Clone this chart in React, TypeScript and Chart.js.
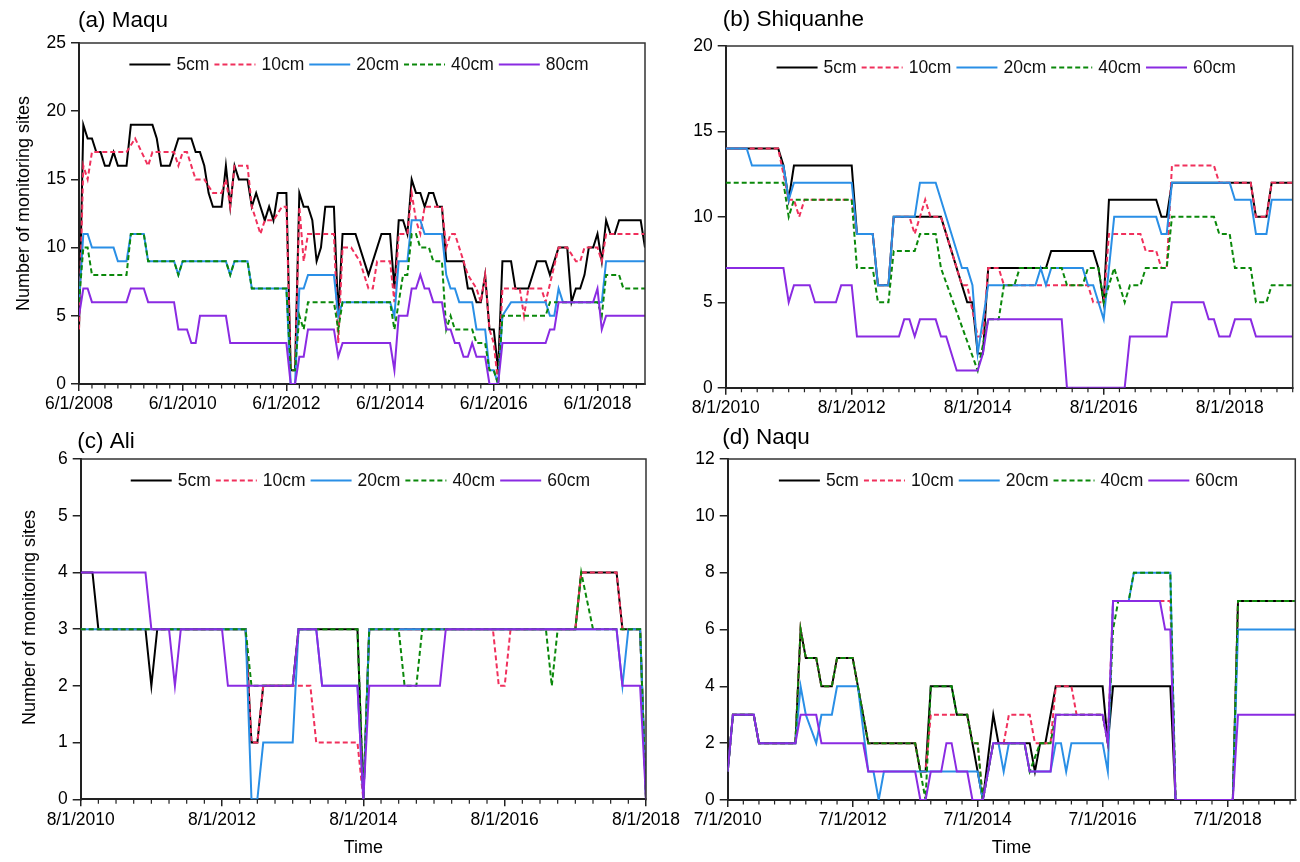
import React, { useEffect, useRef } from 'react';
import { Chart, registerables } from 'chart.js';

Chart.register(...registerables);

type P = [number, number][];

// ---------- (a) Maqu: x = months since 6/1/2008 ----------
const maquTicks = ['6/1/2008', '6/1/2010', '6/1/2012', '6/1/2014', '6/1/2016', '6/1/2018'];
const maquMonths = 131;
const maquLabels = ['5cm', '10cm', '20cm', '40cm', '80cm'];
const maqu5cm: P = [[0,4],[1,19],[2,18],[3,18],[4,17],[5,17],[6,16],[7,16],[8,17],[9,16],[11,16],[12,19],[17,19],[18,18],[19,16],[21,16],[23,18],[26,18],[27,17],[28,17],[29,16],[30,14],[31,13],[33,13],[34,16],[35,13],[36,16],[37,15],[39,15],[40,13],[41,14],[42,13],[43,12],[44,13],[45,12],[46,14],[48,14],[49,1],[50,1],[51,14],[52,13],[53,13],[54,12],[55,9],[56,10],[57,13],[59,13],[60,5],[61,11],[64,11],[67,8],[70,11],[72,11],[73,7],[74,12],[75,12],[76,11],[77,15],[78,14],[79,14],[80,13],[81,14],[82,14],[83,13],[84,13],[85,9],[89,9],[90,7],[91,7],[92,6],[93,6],[94,8],[95,4],[96,4],[97,1],[98,9],[100,9],[101,7],[104,7],[106,9],[108,9],[109,8],[111,10],[113,10],[114,6],[115,7],[116,7],[117,8],[118,10],[119,10],[120,11],[121,9],[122,12],[123,11],[124,11],[125,12],[130,12],[131,10]];
const maqu10cm: P = [[0,4],[1,16],[2,15],[3,17],[11,17],[13,18],[16,16],[17,17],[22,17],[23,16],[24,17],[25,17],[27,15],[29,15],[31,14],[33,14],[34,15],[35,13],[36,16],[39,16],[40,13],[41,12],[42,11],[43,12],[45,12],[47,13],[48,13],[49,1],[50,1],[51,13],[52,9],[53,11],[59,11],[60,3],[61,10],[63,10],[65,9],[67,7],[68,7],[69,9],[72,9],[73,6],[74,11],[76,11],[77,14],[78,12],[79,11],[80,13],[84,13],[85,10],[86,11],[87,11],[89,9],[90,8],[92,7],[93,6],[94,8],[95,4],[96,3],[97,0],[98,7],[102,7],[103,5],[104,7],[107,7],[108,6],[111,10],[113,10],[115,9],[116,9],[117,10],[120,10],[121,9],[122,11],[131,11]];
const maqu20cm: P = [[0,6],[1,11],[2,11],[3,10],[8,10],[9,9],[11,9],[12,11],[15,11],[16,9],[22,9],[23,8],[24,9],[34,9],[35,8],[36,9],[39,9],[40,7],[48,7],[49,0],[50,0],[51,7],[52,7],[53,8],[59,8],[60,5],[61,6],[72,6],[73,5],[74,9],[76,9],[77,12],[79,12],[80,11],[84,11],[85,8],[86,7],[87,7],[88,6],[91,6],[92,4],[94,4],[95,1],[96,1],[97,0],[98,5],[100,6],[108,6],[109,5],[110,5],[111,7],[112,6],[121,6],[122,9],[131,9]];
const maqu40cm: P = [[0,6],[1,10],[2,10],[3,8],[11,8],[12,11],[15,11],[16,9],[22,9],[23,8],[24,9],[34,9],[35,8],[36,9],[39,9],[40,7],[48,7],[49,1],[50,1],[51,5],[52,4],[53,6],[59,6],[60,4],[61,6],[72,6],[73,4],[74,6],[75,8],[76,8],[77,11],[78,11],[79,10],[81,10],[82,9],[84,9],[85,4],[86,5],[87,4],[91,4],[92,3],[94,3],[95,1],[96,1],[97,0],[98,5],[108,5],[109,6],[120,6],[121,5],[122,8],[125,8],[126,7],[131,7]];
const maqu80cm: P = [[0,5],[1,7],[2,7],[3,6],[11,6],[12,7],[15,7],[16,6],[22,6],[23,4],[25,4],[26,3],[27,3],[28,5],[34,5],[35,3],[48,3],[49,0],[50,0],[51,2],[52,2],[53,4],[59,4],[60,2],[61,3],[72,3],[73,1],[74,5],[76,5],[77,7],[78,7],[79,8],[80,7],[81,7],[82,6],[84,6],[85,4],[86,4],[87,3],[88,3],[89,2],[90,2],[91,3],[92,2],[94,2],[95,0],[97,0],[98,3],[108,3],[109,4],[110,4],[111,6],[119,6],[120,7],[121,4],[122,5],[131,5]];

// ---------- (b) Shiquanhe: x = months since 8/1/2010 ----------
const shiTicks = ['8/1/2010', '8/1/2012', '8/1/2014', '8/1/2016', '8/1/2018'];
const shiMonths = 108;
const shiLabels = ['5cm', '10cm', '20cm', '40cm', '60cm'];
const shi5cm: P = [[0,14],[10,14],[11,13],[12,11],[13,13],[24,13],[25,9],[28,9],[29,6],[31,6],[32,10],[41,10],[46,5],[47,5],[48,2],[49,2],[50,7],[61,7],[62,8],[70,8],[71,7],[72,5],[73,11],[82,11],[83,10],[84,10],[85,12],[100,12],[101,10],[103,10],[104,12],[108,12]];
const shi10cm: P = [[0,14],[10,14],[12,11],[13,11],[14,10],[15,11],[24,11],[25,9],[28,9],[29,6],[31,6],[32,10],[35,10],[36,9],[38,11],[39,10],[41,10],[45,6],[46,6],[48,3],[49,3],[50,7],[52,7],[53,6],[69,6],[70,5],[72,5],[73,9],[79,9],[80,8],[82,8],[83,7],[84,7],[85,13],[93,13],[94,12],[100,12],[101,10],[103,10],[104,12],[108,12]];
const shi20cm: P = [[0,14],[4,14],[5,13],[11,13],[12,11],[13,12],[24,12],[25,9],[28,9],[29,6],[31,6],[32,10],[36,10],[37,12],[40,12],[45,7],[46,7],[47,6],[48,2],[50,6],[59,6],[60,7],[61,6],[62,7],[68,7],[69,6],[70,6],[72,4],[74,10],[82,10],[83,9],[84,9],[85,12],[96,12],[97,11],[100,11],[101,9],[103,9],[104,11],[108,11]];
const shi40cm: P = [[0,12],[11,12],[12,10],[13,11],[24,11],[25,7],[28,7],[29,5],[31,5],[32,8],[36,8],[37,9],[40,9],[41,7],[48,1],[50,4],[52,4],[53,6],[55,6],[56,7],[64,7],[65,6],[68,6],[69,7],[71,7],[72,5],[74,7],[76,5],[77,6],[79,6],[80,7],[84,7],[85,10],[93,10],[94,9],[96,9],[97,7],[100,7],[101,5],[103,5],[104,6],[108,6]];
const shi60cm: P = [[0,7],[11,7],[12,5],[13,6],[16,6],[17,5],[21,5],[22,6],[24,6],[25,3],[33,3],[34,4],[35,4],[36,3],[37,4],[40,4],[41,3],[42,3],[44,1],[48,1],[49,2],[50,4],[64,4],[65,0],[76,0],[77,3],[84,3],[85,5],[91,5],[92,4],[93,4],[94,3],[96,3],[97,4],[100,4],[101,3],[108,3]];

// ---------- (c) Ali: x = months since 8/1/2010 ----------
const aliTicks = ['8/1/2010', '8/1/2012', '8/1/2014', '8/1/2016', '8/1/2018'];
const aliMonths = 96;
const aliLabels = ['5cm', '10cm', '20cm', '40cm', '60cm'];
const ali5cm: P = [[0,4],[2,4],[3,3],[11,3],[12,2],[13,3],[28,3],[29,1],[30,1],[31,2],[36,2],[37,3],[47,3],[48,0],[49,3],[84,3],[85,4],[91,4],[92,3],[95,3],[96,0]];
const ali10cm: P = [[0,3],[28,3],[29,1],[30,1],[31,2],[39,2],[40,1],[47,1],[48,0],[49,3],[70,3],[71,2],[72,2],[73,3],[84,3],[85,4],[91,4],[92,3],[95,3],[96,0]];
const ali20cm: P = [[0,3],[28,3],[29,0],[30,0],[31,1],[36,1],[37,3],[40,3],[41,2],[47,2],[48,0],[49,3],[91,3],[92,2],[93,3],[95,3],[96,0]];
const ali40cm: P = [[0,3],[28,3],[29,2],[36,2],[37,3],[47,3],[48,0],[49,3],[54,3],[55,2],[57,2],[58,3],[79,3],[80,2],[81,3],[84,3],[85,4],[87,3],[95,3],[96,0]];
const ali60cm: P = [[0,4],[11,4],[12,3],[15,3],[16,2],[17,3],[24,3],[25,2],[36,2],[37,3],[40,3],[41,2],[47,2],[48,0],[49,2],[61,2],[62,3],[91,3],[92,2],[95,2],[96,0]];

// ---------- (d) Naqu: x = months since 7/1/2010 ----------
const naquTicks = ['7/1/2010', '7/1/2012', '7/1/2014', '7/1/2016', '7/1/2018'];
const naquMonths = 109;
const naquLabels = ['5cm', '10cm', '20cm', '40cm', '60cm'];
const naqu5cm: P = [[0,1],[1,3],[5,3],[6,2],[13,2],[14,6],[15,5],[17,5],[18,4],[20,4],[21,5],[24,5],[27,2],[36,2],[37,1],[38,1],[39,4],[43,4],[44,3],[46,3],[48,1],[49,0],[51,3],[52,2],[58,2],[59,1],[60,2],[61,2],[63,4],[72,4],[73,2],[74,4],[85,4],[86,0],[97,0],[98,7],[109,7]];
const naqu10cm: P = [[0,1],[1,3],[5,3],[6,2],[13,2],[14,6],[15,5],[17,5],[18,4],[20,4],[21,5],[24,5],[27,2],[36,2],[37,1],[38,1],[39,3],[46,3],[47,2],[48,2],[49,0],[51,2],[53,2],[54,3],[58,3],[59,2],[62,2],[63,4],[66,4],[67,3],[72,3],[73,2],[74,7],[85,7],[86,0],[97,0],[98,7],[109,7]];
const naqu20cm: P = [[0,1],[1,3],[5,3],[6,2],[13,2],[14,4],[15,3],[17,2],[18,3],[20,3],[21,4],[25,4],[27,1],[28,1],[29,0],[30,1],[48,1],[49,0],[51,2],[52,2],[53,1],[54,2],[57,2],[58,1],[62,1],[63,2],[64,2],[65,1],[66,2],[72,2],[73,1],[74,7],[77,7],[78,8],[85,8],[86,0],[97,0],[98,6],[109,6]];
const naqu40cm: P = [[0,1],[1,3],[5,3],[6,2],[13,2],[14,6],[15,5],[17,5],[18,4],[20,4],[21,5],[24,5],[27,2],[36,2],[37,1],[38,0],[39,4],[43,4],[44,3],[46,3],[47,2],[48,2],[49,0],[51,2],[57,2],[58,1],[60,2],[62,2],[63,3],[72,3],[73,2],[74,6],[75,7],[77,7],[78,8],[85,8],[86,0],[97,0],[98,7],[109,7]];
const naqu60cm: P = [[0,1],[1,3],[5,3],[6,2],[13,2],[14,3],[17,3],[18,2],[26,2],[27,1],[36,1],[37,0],[38,0],[39,1],[41,1],[42,2],[43,2],[44,1],[46,1],[47,0],[49,0],[51,2],[57,2],[58,1],[62,1],[63,3],[72,3],[73,2],[74,7],[83,7],[84,6],[85,6],[86,0],[97,0],[98,3],[109,3]];

// ---------- styles ----------
const FONT = '"Liberation Sans", Arial, Helvetica, sans-serif';
const COLORS = ['#000000', '#f0305c', '#2a8fe6', '#0a880a', '#8a2be2'];
const DASHES: number[][] = [[], [5, 3], [], [5, 3], []];
const MAJOR = 24;
const MINOR = 3;

interface Panel {
  key: string;
  title: string;
  labels: string[];
  series: P[];
  ticks: string[];
  xMax: number;
  yMax: number;
  yStep: number;
  canvas: { left: number; top: number; width: number; height: number };
  area: { left: number; right: number; top: number; bottom: number };
  titlePos: [number, number];
  yTitle?: [number, number];
  xTitleY?: number;
}

const PANELS: Panel[] = [
  {
    key: 'a', title: '(a) Maqu', labels: maquLabels,
    series: [maqu5cm, maqu10cm, maqu20cm, maqu40cm, maqu80cm],
    ticks: maquTicks, xMax: maquMonths, yMax: 25, yStep: 5,
    canvas: { left: 0, top: 0, width: 660, height: 420 },
    area: { left: 79, right: 645, top: 43, bottom: 384 },
    titlePos: [78, 21], yTitle: [24, 203.5],
  },
  {
    key: 'b', title: '(b) Shiquanhe', labels: shiLabels,
    series: [shi5cm, shi10cm, shi20cm, shi40cm, shi60cm],
    ticks: shiTicks, xMax: shiMonths, yMax: 20, yStep: 5,
    canvas: { left: 660, top: 0, width: 640, height: 420 },
    area: { left: 65.7, right: 632.7, top: 46, bottom: 387.7 },
    titlePos: [62.7, 20],
  },
  {
    key: 'c', title: '(c) Ali', labels: aliLabels,
    series: [ali5cm, ali10cm, ali20cm, ali40cm, ali60cm],
    ticks: aliTicks, xMax: aliMonths, yMax: 6, yStep: 1,
    canvas: { left: 0, top: 420, width: 690, height: 442 },
    area: { left: 80.7, right: 646, top: 39, bottom: 379.3 },
    titlePos: [77.3, 21.5], yTitle: [30, 197.5], xTitleY: 428,
  },
  {
    key: 'd', title: '(d) Naqu', labels: naquLabels,
    series: [naqu5cm, naqu10cm, naqu20cm, naqu40cm, naqu60cm],
    ticks: naquTicks, xMax: naquMonths, yMax: 12, yStep: 2,
    canvas: { left: 660, top: 420, width: 640, height: 442 },
    area: { left: 67.7, right: 635.3, top: 39, bottom: 380 },
    titlePos: [62.3, 18], xTitleY: 428,
  },
];

const decorPlugin = {
  id: 'decor',
  afterDraw(chart: any, _args: any, o: any) {
    const { ctx, chartArea: a } = chart;
    const xs = chart.scales.x;
    ctx.save();
    ctx.setLineDash([]);
    // top and right frame
    ctx.strokeStyle = '#333';
    ctx.lineWidth = 1.5;
    ctx.beginPath();
    ctx.moveTo(a.left, a.top);
    ctx.lineTo(a.right, a.top);
    ctx.lineTo(a.right, a.bottom + 1);
    ctx.stroke();
    // minor x ticks
    ctx.strokeStyle = '#222';
    ctx.lineWidth = 1.2;
    ctx.beginPath();
    for (let m = MINOR; m <= xs.max; m += MINOR) {
      if (m % MAJOR === 0) continue;
      const px = xs.getPixelForValue(m);
      ctx.moveTo(px, a.bottom);
      ctx.lineTo(px, a.bottom + 4.5);
    }
    ctx.stroke();
    // legend inside plot
    ctx.font = `17.5px ${FONT}`;
    ctx.textBaseline = 'middle';
    ctx.textAlign = 'left';
    const ds = chart.data.datasets;
    const LINE = 41, G1 = 6, G2 = 5;
    const widths = ds.map((d: any) => ctx.measureText(d.label).width);
    const total = ds.length * (LINE + G1) + (ds.length - 1) * G2 + widths.reduce((s: number, w: number) => s + w, 0);
    let x = (a.left + a.right) / 2 - 3 - total / 2;
    const y = a.top + 21.5;
    ds.forEach((d: any, i: number) => {
      ctx.beginPath();
      ctx.strokeStyle = d.borderColor;
      ctx.lineWidth = d.borderWidth;
      ctx.setLineDash(d.borderDash || []);
      ctx.moveTo(x, y);
      ctx.lineTo(x + LINE, y);
      ctx.stroke();
      x += LINE + G1;
      ctx.fillStyle = '#111';
      ctx.fillText(d.label, x, y + 0.5);
      x += widths[i] + G2;
    });
    ctx.setLineDash([]);
    // panel title
    ctx.fillStyle = '#000';
    ctx.font = `22.5px ${FONT}`;
    ctx.fillText(o.title, o.titlePos[0], o.titlePos[1]);
    // axis titles
    ctx.font = `18px ${FONT}`;
    if (o.yTitle) {
      ctx.save();
      ctx.translate(o.yTitle[0], o.yTitle[1]);
      ctx.rotate(-Math.PI / 2);
      ctx.textAlign = 'center';
      ctx.fillText('Number of monitoring sites', 0, 0);
      ctx.restore();
    }
    if (o.xTitleY) {
      ctx.textAlign = 'center';
      ctx.fillText('Time', (a.left + a.right) / 2, o.xTitleY);
    }
    ctx.restore();
  },
};

function makeConfig(p: Panel): any {
  const majors: number[] = [];
  for (let m = 0; m <= p.xMax; m += MAJOR) majors.push(m);
  return {
    type: 'line',
    data: {
      datasets: p.series.map((s, i) => ({
        label: p.labels[i],
        data: s.map(([x, y]) => ({ x, y })),
        borderColor: COLORS[i],
        backgroundColor: COLORS[i],
        borderWidth: 2,
        borderDash: DASHES[i],
        pointRadius: 0,
        pointHoverRadius: 0,
        fill: false,
        tension: 0,
        order: 10 - i,
      })),
    },
    options: {
      responsive: false,
      animation: false,
      devicePixelRatio: 1,
      events: [],
      layout: {
        autoPadding: false,
        padding: { left: 0, top: p.area.top, right: p.canvas.width - p.area.right, bottom: 0 },
      },
      plugins: {
        legend: { display: false },
        tooltip: { enabled: false },
        title: { display: false },
        decor: { title: p.title, titlePos: p.titlePos, yTitle: p.yTitle, xTitleY: p.xTitleY },
      },
      scales: {
        x: {
          type: 'linear',
          min: 0,
          max: p.xMax,
          bounds: 'data',
          afterBuildTicks: (s: any) => { s.ticks = majors.map((v) => ({ value: v })); },
          afterFit: (s: any) => { s.height = p.canvas.height - p.area.bottom; },
          ticks: {
            autoSkip: false,
            maxRotation: 0,
            minRotation: 0,
            padding: 3,
            color: '#000',
            font: { size: 17.5, family: FONT },
            callback: (v: number) => (v % MAJOR === 0 ? p.ticks[v / MAJOR] ?? '' : ''),
          },
          grid: { drawOnChartArea: false, drawTicks: true, tickLength: 7, color: '#222', lineWidth: 1.5 },
          border: { display: true, color: '#222', width: 2 },
        },
        y: {
          type: 'linear',
          min: 0,
          max: p.yMax,
          afterFit: (s: any) => { s.width = p.area.left; },
          ticks: {
            stepSize: p.yStep,
            padding: 5,
            color: '#000',
            font: { size: 17.5, family: FONT },
          },
          grid: { drawOnChartArea: false, drawTicks: true, tickLength: 8, color: '#222', lineWidth: 1.5 },
          border: { display: true, color: '#222', width: 2 },
        },
      },
    },
    plugins: [decorPlugin],
  };
}

export default function App() {
  const refs = useRef<(HTMLCanvasElement | null)[]>([]);
  useEffect(() => {
    const charts = PANELS.map((p, i) => new Chart(refs.current[i] as HTMLCanvasElement, makeConfig(p)));
    return () => charts.forEach((c) => c.destroy());
  }, []);
  return (
    <div style={{ position: 'absolute', left: 0, top: 0, width: 1300, height: 862, background: '#fff', overflow: 'hidden' }}>
      {PANELS.map((p, i) => (
        <canvas
          key={p.key}
          ref={(el) => { refs.current[i] = el; }}
          width={p.canvas.width}
          height={p.canvas.height}
          style={{ position: 'absolute', left: p.canvas.left, top: p.canvas.top, width: p.canvas.width, height: p.canvas.height }}
        />
      ))}
    </div>
  );
}
